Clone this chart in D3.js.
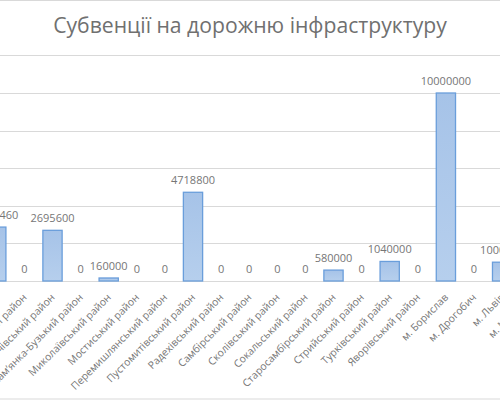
<!DOCTYPE html>
<html>
<head>
<meta charset="utf-8">
<script src="https://cdn.jsdelivr.net/npm/d3@7"></script>
<style>
  body { margin: 0; background: #fff; }
  svg { display: block; font-family: "Open Sans", sans-serif; }
</style>
</head>
<body>
<svg id="chart" width="500" height="400"></svg>
<script>
var title = 'Субвенції на дорожню інфраструктуру';

var districts = [
  'Жидачівський район', 'Жовківський район', 'Золочівський район',
  'Кам\u2019янка-Бузький район', 'Миколаївський район', 'Мостиський район',
  'Перемишлянський район', 'Пустомитівський район', 'Радехівський район',
  'Самбірський район', 'Сколівський район', 'Сокальський район',
  'Старосамбірський район', 'Стрийський район', 'Турківський район',
  'Яворівський район', 'м. Борислав', 'м. Дрогобич', 'м. Львів', 'м. Моршин'
];

var subsidies = [
  2868460, 0, 2695600,
  0, 160000, 0,
  0, 4718800, 0,
  0, 0, 0,
  580000, 0, 1040000,
  0, 10000000, 0, 1000000, 0
];

var gridTicks = [0, 2000000, 4000000, 6000000, 8000000, 10000000, 12000000];

var width = 500, height = 400;
var step = 28.1;
var startX = -17.75;
var gray = '#767676';

var svg = d3.select('#chart');

// chart area border
svg.append('rect')
  .attr('x', -1).attr('y', 0.5)
  .attr('width', width + 2).attr('height', height - 1.5)
  .attr('fill', '#fff')
  .attr('stroke', '#d9d9d9');

var x = d3.scaleBand()
  .domain(districts)
  .range([startX, startX + districts.length * step])
  .paddingInner(0.315)
  .paddingOuter(0.1575);

var y = d3.scaleLinear()
  .domain([0, 12000000])
  .range([281, 55.4]);

// gridlines
svg.append('g')
  .selectAll('line')
  .data(gridTicks)
  .enter().append('line')
  .attr('x1', 0).attr('x2', width)
  .attr('y1', function(d) { return Math.round(y(d)) + 0.5; })
  .attr('y2', function(d) { return Math.round(y(d)) + 0.5; })
  .attr('stroke', '#d9d9d9')
  .attr('stroke-width', 1);

var grad = svg.append('defs').append('linearGradient')
  .attr('id', 'barFill')
  .attr('x1', 0).attr('y1', 0).attr('x2', 0).attr('y2', 1);
grad.append('stop').attr('offset', '0%').attr('stop-color', '#a6c3e8');
grad.append('stop').attr('offset', '100%').attr('stop-color', '#b6cfed');

// bars (zero values draw nothing)
svg.append('g')
  .selectAll('rect')
  .data(subsidies.map(function(v, i) { return {name: districts[i], value: v}; }))
  .enter().append('rect')
  .filter(function(d) { return d.value > 0; })
  .attr('x', function(d) { return x(d.name); })
  .attr('y', function(d) { return y(d.value); })
  .attr('width', x.bandwidth())
  .attr('height', function(d) { return y(0) - y(d.value); })
  .attr('fill', 'url(#barFill)')
  .attr('stroke', '#6a9edb')
  .attr('stroke-width', 1.3);

// data labels
var valueLabels = svg.append('g')
  .selectAll('text')
  .data(subsidies)
  .enter().append('text')
  .attr('x', function(d, i) { return x(districts[i]) + x.bandwidth() / 2; })
  .attr('y', function(d) { return y(d) - 8; })
  .attr('text-anchor', 'middle')
  .attr('fill', gray)
  .text(function(d) { return d; });

// fit font sizes to the widths measured on the picture
var probe = svg.append('text').attr('font-size', 12).text('2695600');
var valueSize = 12 * 44 / probe.node().getComputedTextLength();
probe.text('Перемишлянський район');
var catSize = 12 * 131 / probe.node().getComputedTextLength();
probe.attr('font-size', 20).text(title);
var titleSize = 20 * 394 / probe.node().getComputedTextLength();
probe.remove();

valueLabels.attr('font-size', valueSize);

// category axis
var xAxis = svg.append('g')
  .attr('transform', 'translate(0,' + y(0) + ')')
  .call(d3.axisBottom(x).tickSize(0).tickPadding(0));

xAxis.select('.domain').remove();
xAxis.selectAll('text')
  .attr('font-family', '"Open Sans", sans-serif')
  .attr('font-size', catSize)
  .attr('fill', gray)
  .attr('text-anchor', 'end')
  .attr('dy', 0)
  .attr('y', 0)
  .attr('transform', 'translate(3,17) rotate(-45)');

svg.append('text')
  .attr('x', 250)
  .attr('y', 33)
  .attr('text-anchor', 'middle')
  .attr('font-size', titleSize)
  .attr('fill', '#707070')
  .text(title);
</script>
</body>
</html>
